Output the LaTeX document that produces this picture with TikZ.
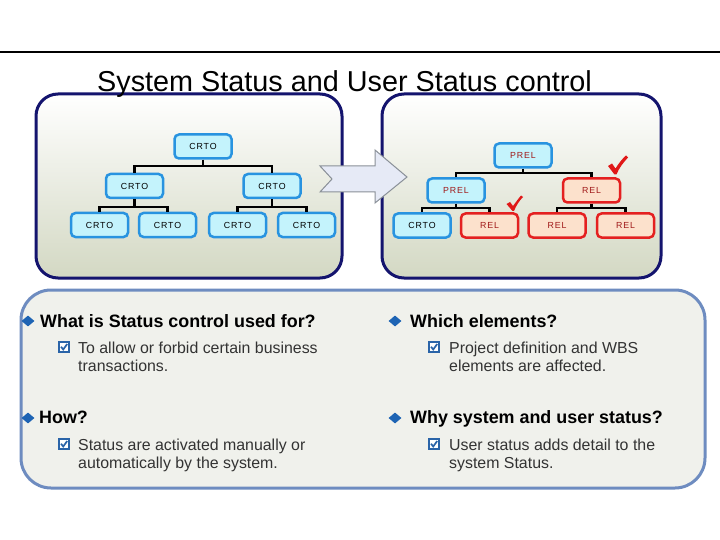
\documentclass[tikz,border=0pt]{standalone}
\usepackage{fontspec}
\setmainfont{Liberation Sans}
\newfontfamily\boxfont[LetterSpace=10]{Liberation Sans}
\usetikzlibrary{shapes.geometric}
\definecolor{navy}{HTML}{14146E}
\definecolor{panelbot}{HTML}{D3D8C3}
\definecolor{bbord}{HTML}{2893E0}
\definecolor{bfill}{HTML}{C4F3FC}
\definecolor{rbord}{HTML}{E42020}
\definecolor{rfill}{HTML}{FCE1CC}
\definecolor{rtext}{HTML}{A01818}
\definecolor{steel}{HTML}{6E8CC0}
\definecolor{bpfill}{HTML}{F0F1EC}
\definecolor{cbblue}{HTML}{2A64A8}
\definecolor{dblue}{HTML}{1E64B4}
\definecolor{arrfill}{HTML}{E6EAF6}
\definecolor{arrdraw}{HTML}{8A9098}
\definecolor{bodytext}{HTML}{333333}
\definecolor{chkred}{HTML}{E01818}
\begin{document}
\begin{tikzpicture}[x=1pt,y=-1pt,
  panel/.style={draw=navy, line width=3pt, rounded corners=22pt, top color=white, bottom color=panelbot, inner sep=0pt},
  bluebox/.style={draw=bbord, fill=bfill, line width=2.5pt, rounded corners=4.5pt, minimum width=57pt, minimum height=24pt, inner sep=0pt, font=\boxfont\fontsize{8.8}{10}\selectfont},
  redbox/.style={bluebox, draw=rbord, fill=rfill, text=rtext},
  conn/.style={line width=2.5pt, black},
  head/.style={anchor=base west, inner sep=0pt, font=\bfseries\fontsize{17.9}{20}\selectfont},
  body/.style={anchor=base west, inner sep=0pt, text=bodytext, font=\fontsize{15.9}{18}\selectfont},
  bul/.style={diamond, fill=dblue, inner sep=0pt, minimum width=13pt, minimum height=11pt},
  cbox/.pic={\draw[line width=1.7pt, draw=cbblue, fill=white] (-5,-5) rectangle (5,5);
             \draw[line width=1.7pt, cbblue] (-3,-0.3) -- (-0.8,2.5) -- (3.2,-3);},
  chk/.style={fill=chkred, draw=none}
]
\useasboundingbox (0,0) rectangle (720,540);
\fill[white] (0,0) rectangle (720,540);

% top rule
\coordinate (ruleL) at (0,52);
\coordinate (ruleR) at (720,52);
\draw[line width=2pt, black] (ruleL) -- (ruleR);

% panels
\node[panel, minimum width=306pt, minimum height=184pt] (lp) at (189,186) {};
\node[panel, minimum width=279pt, minimum height=184pt] (rp) at (521.5,186) {};

% block arrow
\draw[fill=arrfill, draw=arrdraw, line width=1pt]
  (320,166) -- (375,166) -- (375,150) -- (407,177) -- (375,203) -- (375,192) -- (320,192) -- (332,179) -- cycle;

% title
\node[anchor=base west, inner sep=0pt, font=\fontsize{28.8}{34}\selectfont] (title) at (97,92) {System Status and User Status control};

% left tree
\node[bluebox] (r)  at (203,146.5) {CRTO};
\node[bluebox] (a)  at (134.5,186) {CRTO};
\node[bluebox] (b)  at (272,186) {CRTO};
\node[bluebox] (a1) at (99.5,225) {CRTO};
\node[bluebox] (a2) at (167.5,225) {CRTO};
\node[bluebox] (b1) at (237.5,225) {CRTO};
\node[bluebox] (b2) at (306.5,225) {CRTO};
\coordinate (jr) at (203,166);
\coordinate (ja) at (134.5,207);
\coordinate (jb) at (272,207);
\draw[conn] (r.south) -- (jr);
\draw[conn] (a.north) |- (jr) -| (b.north);
\draw[conn] (a.south) -- (ja);
\draw[conn] (a1.north) |- (ja) -| (a2.north);
\draw[conn] (b.south) -- (jb);
\draw[conn] (b1.north) |- (jb) -| (b2.north);

% right tree
\node[bluebox, text=rtext] (pr) at (523,155.5) {PREL};
\node[bluebox, text=rtext] (pa) at (456,190.5) {PREL};
\node[redbox] (pb)  at (591.5,190.5) {REL};
\node[bluebox] (pa1) at (422,225.5) {CRTO};
\node[redbox] (pa2) at (489.5,225.5) {REL};
\node[redbox] (pb1) at (557,225.5) {REL};
\node[redbox] (pb2) at (625.5,225.5) {REL};
\coordinate (kr) at (523,173);
\coordinate (ka) at (456,208);
\coordinate (kb) at (591.5,208);
\draw[conn] (pr.south) -- (kr);
\draw[conn] (pa.north) |- (kr) -| (pb.north);
\draw[conn] (pa.south) -- (ka);
\draw[conn] (pa1.north) |- (ka) -| (pa2.north);
\draw[conn] (pb.south) -- (kb);
\draw[conn] (pb1.north) |- (kb) -| (pb2.north);

% check marks
\fill[chk] (608,166) -- (612,163.5) -- (615.5,168.5) .. controls (619,163) and (622,159) .. (626,155.5)
  -- (628,157.5) .. controls (623,163) and (619,168) .. (616.5,174.5) -- (614.5,174.5) -- cycle;
\fill[chk] (506.5,204) -- (510,202) -- (513,206) .. controls (516,202) and (518,199) .. (521,195.5)
  -- (523,197) .. controls (519,201) and (516,206) .. (514,211) -- (512.5,211) -- cycle;

% bottom panel
\node[draw=steel, fill=bpfill, line width=3pt, rounded corners=30pt, minimum width=684pt, minimum height=198pt, inner sep=0pt] (bp) at (363,389) {};

% left column
\node[bul] (d1) at (28,321) {};
\node[head] (h1) at (40,327) {What is Status control used for?};
\pic at (64,347) {cbox};
\node[body] (t1a) at (78,353) {To allow or forbid certain business};
\node[body] (t1b) at (78,371) {transactions.};

\node[bul] (d2) at (28,418) {};
\node[head] (h2) at (39,423.5) {How?};
\pic at (64,444) {cbox};
\node[body] (t2a) at (78,450) {Status are activated manually or};
\node[body] (t2b) at (78,468) {automatically by the system.};

% right column
\node[bul] (d3) at (395,321) {};
\node[head] (h3) at (410,327) {Which elements?};
\pic at (434,347) {cbox};
\node[body] (t3a) at (449,353) {Project definition and WBS};
\node[body] (t3b) at (449,371) {elements are affected.};

\node[bul] (d4) at (395,418) {};
\node[head] (h4) at (410,423.5) {Why system and user status?};
\pic at (434,444) {cbox};
\node[body] (t4a) at (449,450) {User status adds detail to the};
\node[body] (t4b) at (449,468) {system Status.};
\end{tikzpicture}
\end{document}
